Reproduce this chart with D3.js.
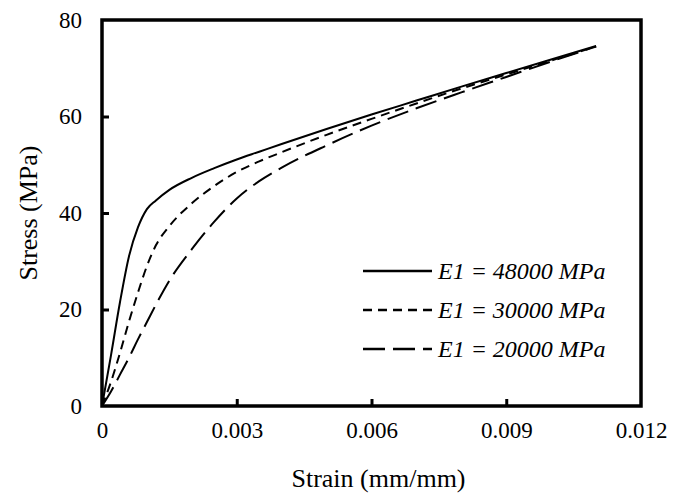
<!DOCTYPE html>
<html>
<head>
<meta charset="utf-8">
<script src="https://cdn.jsdelivr.net/npm/d3@7"></script>
<style>
  html, body { margin: 0; padding: 0; background: #fff; }
  svg { display: block; }
</style>
</head>
<body>
<div id="chart"></div>
<script>
// strain values shared by the three curves (mm/mm)
const strain = [0, 0.0002, 0.0004, 0.0006, 0.0008, 0.001, 0.0012, 0.0015, 0.002, 0.0025,
  0.003, 0.0035, 0.004, 0.005, 0.006, 0.007, 0.008, 0.009, 0.010, 0.011];

// stress (MPa)
const stressE48 = [0, 10.5, 21.5, 31, 37, 40.8, 42.6, 44.8, 47.3, 49.3,
  51.1, 52.7, 54.3, 57.4, 60.4, 63.3, 66.2, 69.0, 71.8, 74.6];
const stressE30 = [0, 5, 11, 17.5, 23.5, 29, 33.3, 37.3, 42, 45.6,
  48.5, 50.7, 52.6, 56.2, 59.5, 62.7, 65.8, 68.7, 71.6, 74.5];
const stressE20 = [0, 3, 6.5, 10, 13.8, 17.4, 21, 26, 32.5, 38.2,
  43.0, 46.6, 49.4, 54.0, 58.1, 61.7, 65.0, 68.2, 71.4, 74.5];

const seriesNames = ["E1 = 48000 MPa", "E1 = 30000 MPa", "E1 = 20000 MPa"];
const xTicks = [0, 0.003, 0.006, 0.009, 0.012];
const yTicks = [0, 20, 40, 60, 80];

const FONT = "Liberation Serif";
const W = 674, H = 497;
const m = { left: 102, right: 33, top: 20, bottom: 91 };

const svg = d3.select("#chart").append("svg")
  .attr("width", W).attr("height", H)
  .attr("font-family", FONT);

const x = d3.scaleLinear().domain([0, 0.012]).range([m.left, W - m.right]);
const y = d3.scaleLinear().domain([0, 80]).range([H - m.bottom, m.top]);

// curves
const dashes = [null, "9,6", "22,8"];
const series = [stressE48, stressE30, stressE20];
const line = d3.line()
  .x(d => x(d[0])).y(d => y(d[1]))
  .curve(d3.curveMonotoneX);

series.forEach((s, i) => {
  svg.append("path")
    .datum(strain.map((e, k) => [e, s[k]]))
    .attr("d", line)
    .attr("fill", "none")
    .attr("stroke", "#000")
    .attr("stroke-width", 2)
    .attr("stroke-dasharray", dashes[i]);
});

// axes (ticks inside)
const xAxis = svg.append("g")
  .attr("transform", `translate(0,${y(0)})`)
  .call(d3.axisBottom(x).tickValues(xTicks).tickSize(-7).tickPadding(16)
    .tickFormat(d => d === 0 ? "0" : d3.format(".3f")(d)));
const yAxis = svg.append("g")
  .attr("transform", `translate(${x(0)},0)`)
  .call(d3.axisLeft(y).tickValues(yTicks).tickSize(-7).tickPadding(20));

[xAxis, yAxis].forEach(a => {
  a.attr("font-family", FONT).attr("font-size", 23);
  a.select(".domain").remove();
  a.selectAll(".tick line").attr("stroke", "#000").attr("stroke-width", 3);
  a.selectAll(".tick text").attr("fill", "#000")
    .attr("font-family", FONT).attr("font-size", 23);
});
xAxis.selectAll(".tick").filter(d => d === 0 || d === 0.012).select("line").remove();
yAxis.selectAll(".tick").filter(d => d === 0 || d === 80).select("line").remove();

// frame
svg.append("rect")
  .attr("x", x(0)).attr("y", y(80))
  .attr("width", x(0.012) - x(0)).attr("height", y(0) - y(80))
  .attr("fill", "none").attr("stroke", "#000").attr("stroke-width", 3.5);

// axis titles
svg.append("text")
  .attr("x", (x(0) + x(0.012)) / 2 + 7).attr("y", 487)
  .attr("text-anchor", "middle")
  .attr("font-family", FONT).attr("font-size", 26)
  .text("Strain (mm/mm)");
svg.append("text")
  .attr("transform", `translate(37,${(y(0) + y(80)) / 2}) rotate(-90)`)
  .attr("text-anchor", "middle")
  .attr("font-family", FONT).attr("font-size", 26)
  .text("Stress (MPa)");

// legend
const lg = svg.append("g");
seriesNames.forEach((name, i) => {
  const ly = 271 + i * 39;
  lg.append("line")
    .attr("x1", 363).attr("x2", 432).attr("y1", ly).attr("y2", ly)
    .attr("stroke", "#000").attr("stroke-width", 2.5)
    .attr("stroke-dasharray", dashes[i]);
  lg.append("text")
    .attr("x", 438).attr("y", ly + 8)
    .attr("font-family", FONT)
    .attr("font-size", 24).attr("font-style", "italic")
    .text(name);
});
</script>
</body>
</html>
